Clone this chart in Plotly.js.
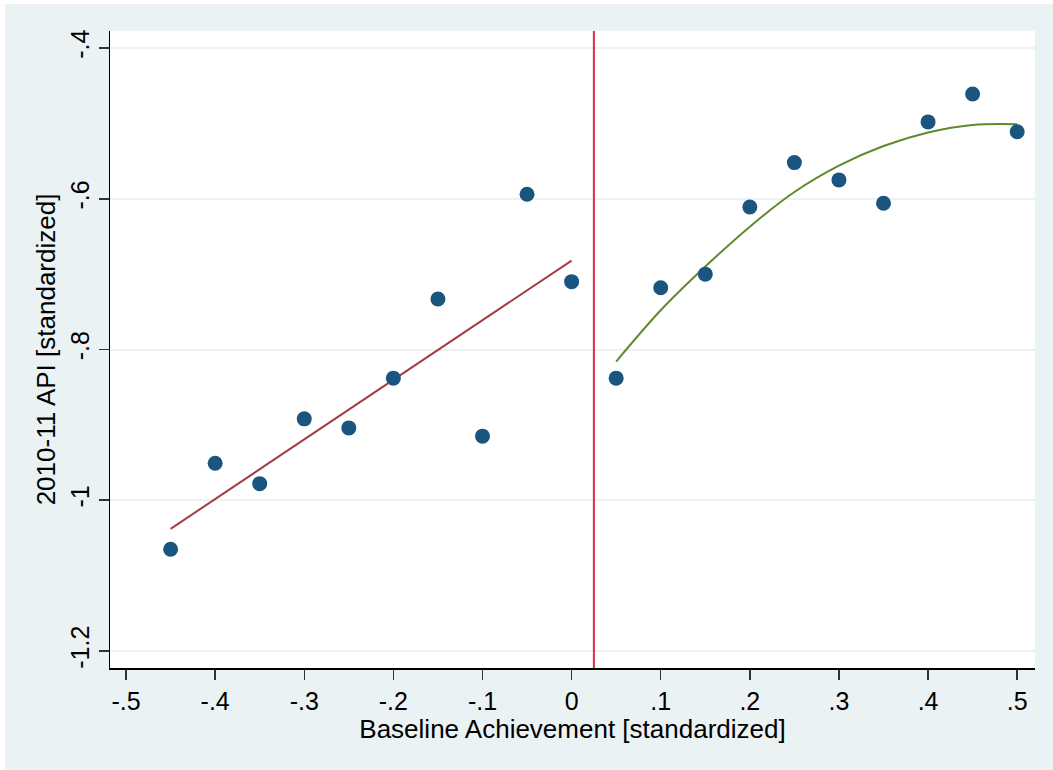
<!DOCTYPE html>
<html>
<head>
<meta charset="utf-8">
<script src="https://cdn.plot.ly/plotly-3.0.1.min.js"></script>
<style>
  html, body { margin: 0; padding: 0; background: #ffffff; }
  #chart { position: absolute; left: 5px; top: 4px; width: 1048px; height: 766px; }
</style>
</head>
<body>
<div id="chart"></div>
<script>
// Binned means of the outcome by baseline achievement
const binX = [-0.45, -0.40, -0.35, -0.30, -0.25, -0.20, -0.15, -0.10, -0.05, 0.00,
              0.05, 0.10, 0.15, 0.20, 0.25, 0.30, 0.35, 0.40, 0.45, 0.50];
const binY = [-1.065, -0.951, -0.978, -0.892, -0.904, -0.838, -0.733, -0.915, -0.594, -0.710,
              -0.838, -0.718, -0.700, -0.611, -0.552, -0.575, -0.606, -0.498, -0.461, -0.511];

// Linear fit below the cutoff
const leftFitX = [-0.45, 0.00];
const leftFitY = [-1.038, -0.682];

// Quadratic fit above the cutoff
const rightFitX = [0.05, 0.10, 0.15, 0.20, 0.25, 0.30, 0.35, 0.40, 0.45, 0.50];
const rightFitY = [-0.816, -0.748, -0.690, -0.637, -0.591, -0.556, -0.530, -0.512, -0.502, -0.501];

// Assignment cutoff
const cutoff = [0.025];

// Axis ticks
const xTickVals = [-0.5, -0.4, -0.3, -0.2, -0.1, 0, 0.1, 0.2, 0.3, 0.4, 0.5];
const xTickText = ['-.5', '-.4', '-.3', '-.2', '-.1', '0', '.1', '.2', '.3', '.4', '.5'];
const yTickVals = [-1.2, -1.0, -0.8, -0.6, -0.4];
const yTickText = ['-1.2', '-1', '-.8', '-.6', '-.4'];

const FONT = 'Liberation Sans, Arial, Helvetica, sans-serif';

const traces = [
  {
    x: leftFitX, y: leftFitY, type: 'scatter', mode: 'lines',
    line: { color: '#a23d44', width: 2 }, hoverinfo: 'skip'
  },
  {
    x: rightFitX, y: rightFitY, type: 'scatter', mode: 'lines',
    line: { color: '#5e8a2e', width: 2, shape: 'spline' }, hoverinfo: 'skip'
  },
  {
    x: binX, y: binY, type: 'scatter', mode: 'markers',
    marker: { color: '#1a5580', size: 15 }
  }
];

const layout = {
  width: 1048, height: 766,
  margin: { l: 105, r: 18, t: 27, b: 102 },
  paper_bgcolor: '#eaf2f3',
  plot_bgcolor: '#ffffff',
  showlegend: false,
  font: { family: FONT, color: '#000000' },
  xaxis: {
    range: [-0.518, 0.52],
    tickvals: xTickVals, ticktext: xTickText,
    ticks: 'outside', ticklen: 10, tickwidth: 1.5, tickcolor: '#333333',
    tickfont: { size: 25, family: FONT },
    showgrid: false, zeroline: false,
    showline: true, linecolor: '#000000', linewidth: 1.5,
    title: { text: 'Baseline Achievement [standardized]', font: { size: 26, family: FONT }, standoff: 2 }
  },
  yaxis: {
    range: [-1.2226, -0.3774],
    tickvals: yTickVals, ticktext: yTickText,
    tickangle: -90,
    ticks: 'outside', ticklen: 10, tickwidth: 1.5, tickcolor: '#333333',
    tickfont: { size: 25, family: FONT },
    showgrid: true, gridcolor: '#eaf2f3', gridwidth: 2,
    zeroline: false,
    showline: true, linecolor: '#000000', linewidth: 1.5,
    title: { text: '2010-11 API [standardized]', font: { size: 26, family: FONT }, standoff: 2 }
  },
  shapes: cutoff.map(c => ({
    type: 'line', xref: 'x', yref: 'paper',
    x0: c, x1: c, y0: 0, y1: 1,
    line: { color: '#d8304a', width: 2 }
  }))
};

Plotly.newPlot('chart', traces, layout, { displayModeBar: false, staticPlot: true });
</script>
</body>
</html>
